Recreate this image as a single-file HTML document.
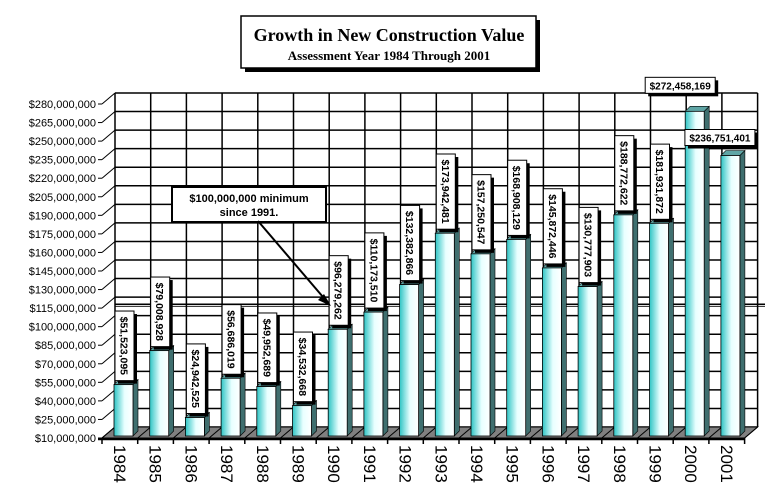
<!DOCTYPE html>
<html><head><meta charset="utf-8"><style>
body{margin:0;background:#fff;}
svg{display:block;font-family:"Liberation Sans",Arial,sans-serif;}
</style></head><body>
<svg id="chart" width="783" height="502" viewBox="0 0 783 502" xmlns="http://www.w3.org/2000/svg">
<defs>
<linearGradient id="barGrad" x1="0" x2="1" y1="0" y2="0">
<stop offset="0" stop-color="#2ec4c4"/><stop offset="0.55" stop-color="#e8ffff"/><stop offset="1" stop-color="#ffffff"/>
</linearGradient>
</defs>
<g id="grid"></g>
<g id="floor"></g>
<g id="bars"></g>
<g id="labels"></g>
<g id="axes"></g>
<g>
<rect x="245" y="20" width="295" height="52" fill="#000"/>
<rect x="241" y="16" width="295" height="52" fill="#fff" stroke="#000" stroke-width="1.5"/>
<text x="389" y="41" text-anchor="middle" font-family="Liberation Serif,serif" font-weight="bold" font-size="18">Growth in New Construction Value</text>
<text x="389" y="60" text-anchor="middle" font-family="Liberation Serif,serif" font-weight="bold" font-size="13">Assessment Year 1984 Through 2001</text>
</g>
<g>
<rect x="172" y="187" width="154" height="35" fill="#fff" stroke="#000" stroke-width="2"/>
<text x="249" y="202" text-anchor="middle" font-weight="bold" font-size="11">$100,000,000 minimum</text>
<text x="249" y="216" text-anchor="middle" font-weight="bold" font-size="11">since 1991.</text>
<line x1="258" y1="221" x2="329" y2="304" stroke="#000" stroke-width="2"/>
<polygon points="331,306 318,300 324,294" fill="#000"/>
</g>
</svg>
<script>
const years=["1984","1985","1986","1987","1988","1989","1990","1991","1992","1993","1994","1995","1996","1997","1998","1999","2000","2001"];
const values=[51523095,79008928,24942525,56686019,49952689,34532668,96279262,110173510,132382866,173942481,157250547,168908129,145872446,130777903,188772622,181931872,272458169,236751401];
const valueLabels=["$51,523,095","$79,008,928","$24,942,525","$56,686,019","$49,952,689","$34,532,668","$96,279,262","$110,173,510","$132,382,866","$173,942,481","$157,250,547","$168,908,129","$145,872,446","$130,777,903","$188,772,622","$181,931,872","$272,458,169","$236,751,401"];
const tickValues=[10,25,40,55,70,85,100,115,130,145,160,175,190,205,220,235,250,265,280].map(v=>v*1000000);
const tickLabels=tickValues.map(v=>"$"+v.toLocaleString("en-US"));
const refValue=110000000;

const NS="http://www.w3.org/2000/svg";
function mk(tag,attrs,parent,txt){const e=document.createElementNS(NS,tag);for(const k in attrs)e.setAttribute(k,attrs[k]);if(txt!==undefined)e.textContent=txt;parent.appendChild(e);return e;}
const X0=102,SLOT=35.7,DX=13,DY=11;
function yScale(v){return 438-(v-10000000)*(334/270000000);}
function xSlot(i){return X0+i*SLOT;}

const grid=document.getElementById('grid'),floor=document.getElementById('floor'),bars=document.getElementById('bars'),labels=document.getElementById('labels'),axes=document.getElementById('axes');
const xEnd=xSlot(years.length);
tickValues.forEach((v,i)=>{const y=yScale(v)-DY;
 const l=mk('line',{x1:X0+DX,x2:xEnd+DX,y1:y,y2:y,stroke:'#000','stroke-width':1.5},grid);
 
 const d=mk('line',{x1:X0,y1:yScale(v),x2:X0+DX,y2:y,stroke:'#000','stroke-width':1},grid);
 
});
for(let i=0;i<=years.length;i++){const x=xSlot(i)+DX;
 const l=mk('line',{x1:x,x2:x,y1:yScale(280000000)-DY,y2:yScale(10000000)-DY,stroke:'#000','stroke-width':1.5},grid);
 
}
const yb=yScale(10000000);
const fl=mk('polygon',{points:`${X0},${yb} ${xEnd},${yb} ${xEnd+DX},${yb-DY} ${X0+DX},${yb-DY}`,fill:'#808080',stroke:'#000'},floor);

for(let i=0;i<=years.length;i++){const x=xSlot(i);mk('line',{x1:x,y1:yb,x2:x+DX,y2:yb-DY,stroke:'#000'},floor);}
const ry=yScale(refValue)-DY+1;
const rl=mk('line',{x1:X0+DX,x2:765,y1:ry,y2:ry,stroke:'#000','stroke-width':1.5},floor);

mk('line',{x1:X0+DX,x2:765,y1:ry+2,y2:ry+2,stroke:'#000','stroke-width':0.8},floor);
values.forEach((v,i)=>{
 const x=xSlot(i)+12,w=19,d=5,bot=436,top=yScale(v)-2;
 const g=mk('g',{},bars);
 mk('polygon',{points:`${x+w},${top} ${x+w+d},${top-5} ${x+w+d},${bot-5} ${x+w},${bot}`,fill:'#3f6f6f',stroke:'#000','stroke-width':0.6},g);
 mk('polygon',{points:`${x},${top} ${x+d},${top-5} ${x+w+d},${top-5} ${x+w},${top}`,fill:'#5fa5a5',stroke:'#000','stroke-width':0.6},g);
 mk('rect',{x:x,y:top,width:w,height:bot-top,fill:'url(#barGrad)',stroke:'#000','stroke-width':0.8},g);
 const lg=mk('g',{},labels);
 if(i>=16){
  const bw=70,bh=16;let bx,by;
  if(i==16){bx=x-40;by=top-34;}else{bx=x-36;by=top-26;}
  mk('rect',{x:bx+3,y:by+3,width:bw,height:bh,fill:'#000'},lg);
  mk('rect',{x:bx,y:by,width:bw,height:bh,fill:'#fff',stroke:'#000'},lg);
  mk('text',{x:bx+bw/2,y:by+12,'text-anchor':'middle','font-size':10,'font-weight':'bold'},lg,valueLabels[i]);
 }else{
  const len=valueLabels[i].length*5.6+8,bw=19;
  const bx=x+1,by=top-4-len;
  mk('rect',{x:bx+3,y:by+3,width:bw,height:len,fill:'#000'},lg);
  mk('rect',{x:bx,y:by,width:bw,height:len,fill:'#fff',stroke:'#000'},lg);
  mk('text',{x:0,y:0,'text-anchor':'middle','font-size':10.5,'font-weight':'bold',transform:`translate(${bx+bw/2-4},${by+len/2}) rotate(90)`},lg,valueLabels[i]);
 }
});
const xa=mk('line',{x1:X0-4,x2:xEnd,y1:yb+1,y2:yb+1,stroke:'#000','stroke-width':2.5},axes);

tickValues.forEach((v,i)=>{const y=yScale(v);
 mk('line',{x1:X0-4,x2:X0,y1:y,y2:y,stroke:'#000'},axes);
 const t=mk('text',{x:X0-6,y:y+4,'text-anchor':'end','font-size':11},axes,tickLabels[i]);
 
});
years.forEach((yr,i)=>{
 mk('line',{x1:xSlot(i),x2:xSlot(i),y1:yb,y2:yb+6,stroke:'#000','stroke-width':1.5},axes);
 const t=mk('text',{x:0,y:0,'font-size':17,transform:`translate(${xSlot(i)+12},${445}) rotate(90)`},axes,yr);
 
});
mk('line',{x1:xEnd,x2:xEnd,y1:yb,y2:yb+6,stroke:'#000','stroke-width':1.5},axes);
</script>
</body></html>
